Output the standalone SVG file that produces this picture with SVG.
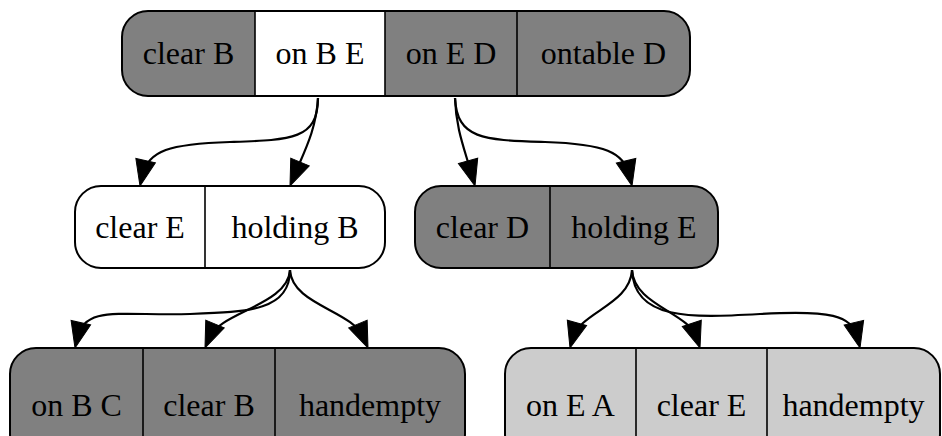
<svg xmlns="http://www.w3.org/2000/svg" width="942" height="436" viewBox="0 0 942 436">
<style>
.t{font-family:"Liberation Serif","Times New Roman",serif;font-size:32px;text-anchor:middle;fill:#000}
.o{fill:none;stroke:#000;stroke-width:2}
.d{stroke:#000;stroke-width:1.6}
.g{fill:#808080}
.w{fill:#ffffff}
.l{fill:#cccccc}
.e{fill:none;stroke:#000;stroke-width:2.2}
.a{fill:#000;stroke:#000;stroke-width:1}
</style>
<defs>
<path id="arr" d="M0,0 L-26,-10 L-26,10 z"/>
<clipPath id="c1"><rect x="122" y="11" width="568" height="85" rx="26"/></clipPath>
<clipPath id="c2"><rect x="75" y="186" width="310" height="82" rx="26"/></clipPath>
<clipPath id="c3"><rect x="415" y="186" width="303" height="82" rx="26"/></clipPath>
<clipPath id="c4"><rect x="10" y="348" width="455" height="112" rx="26"/></clipPath>
<clipPath id="c5"><rect x="505" y="348" width="435" height="112" rx="26"/></clipPath>
</defs>

<g id="connectors">
<path class="e" d="M318,98 C318,140 290,140 230,142 C170,144 148,150 142,176"/>
<use href="#arr" class="a" transform="translate(140,186) rotate(102.5)"/>
<path class="e" d="M318,98 C316,130 305,150 294,176"/>
<use href="#arr" class="a" transform="translate(290,186) rotate(112.6)"/>
<path class="e" d="M455,98 C456,130 465,150 472,176"/>
<use href="#arr" class="a" transform="translate(475,186) rotate(74.5)"/>
<path class="e" d="M455,98 C457,140 485,140 545,142 C605,144 624,152 630,176"/>
<use href="#arr" class="a" transform="translate(632,186) rotate(76.8)"/>
<path class="e" d="M290,270 C290,310 250,312 190,314 C120,316 85,305 77,338"/>
<use href="#arr" class="a" transform="translate(75,348) rotate(103)"/>
<path class="e" d="M290,270 C288,305 220,312 209,338"/>
<use href="#arr" class="a" transform="translate(205,348) rotate(112.6)"/>
<path class="e" d="M290,270 C292,305 352,310 364,338"/>
<use href="#arr" class="a" transform="translate(368,348) rotate(67.2)"/>
<path class="e" d="M632,270 C630,305 580,312 573,338"/>
<use href="#arr" class="a" transform="translate(570,348) rotate(105.5)"/>
<path class="e" d="M632,270 C634,305 688,312 697,338"/>
<use href="#arr" class="a" transform="translate(700,348) rotate(71.6)"/>
<path class="e" d="M632,270 C634,320 690,318 760,314 C830,310 852,315 858,338"/>
<use href="#arr" class="a" transform="translate(860,348) rotate(76.4)"/>
</g>

<g id="n1">
<g clip-path="url(#c1)">
<rect class="g" x="122" y="11" width="133" height="85"/>
<rect class="w" x="255" y="11" width="130" height="85"/>
<rect class="g" x="385" y="11" width="132" height="85"/>
<rect class="g" x="517" y="11" width="173" height="85"/>
</g>
<line class="d" x1="255" y1="11" x2="255" y2="96"/>
<line class="d" x1="385" y1="11" x2="385" y2="96"/>
<line class="d" x1="517" y1="11" x2="517" y2="96"/>
<rect class="o" x="122" y="11" width="568" height="85" rx="26"/>
<text class="t" x="188.5" y="64">clear B</text>
<text class="t" x="320" y="64">on B E</text>
<text class="t" x="451" y="64">on E D</text>
<text class="t" x="603.5" y="64">ontable D</text>
</g>

<g id="n2">
<g clip-path="url(#c2)">
<rect class="w" x="75" y="186" width="310" height="82"/>
</g>
<line class="d" x1="205" y1="186" x2="205" y2="268"/>
<rect class="o" x="75" y="186" width="310" height="82" rx="26"/>
<text class="t" x="140" y="238">clear E</text>
<text class="t" x="295" y="238">holding B</text>
</g>

<g id="n3">
<g clip-path="url(#c3)">
<rect class="g" x="415" y="186" width="303" height="82"/>
</g>
<line class="d" x1="550" y1="186" x2="550" y2="268"/>
<rect class="o" x="415" y="186" width="303" height="82" rx="26"/>
<text class="t" x="482.5" y="238">clear D</text>
<text class="t" x="634" y="238">holding E</text>
</g>

<g id="n4">
<g clip-path="url(#c4)">
<rect class="g" x="10" y="348" width="455" height="112"/>
</g>
<line class="d" x1="143" y1="348" x2="143" y2="460"/>
<line class="d" x1="275" y1="348" x2="275" y2="460"/>
<rect class="o" x="10" y="348" width="455" height="112" rx="26"/>
<text class="t" x="76.5" y="416">on B C</text>
<text class="t" x="209" y="416">clear B</text>
<text class="t" x="370" y="416">handempty</text>
</g>

<g id="n5">
<g clip-path="url(#c5)">
<rect class="l" x="505" y="348" width="435" height="112"/>
</g>
<line class="d" x1="636" y1="348" x2="636" y2="460"/>
<line class="d" x1="767" y1="348" x2="767" y2="460"/>
<rect class="o" x="505" y="348" width="435" height="112" rx="26"/>
<text class="t" x="570.5" y="416">on E A</text>
<text class="t" x="701.5" y="416">clear E</text>
<text class="t" x="853.5" y="416">handempty</text>
</g>
</svg>
